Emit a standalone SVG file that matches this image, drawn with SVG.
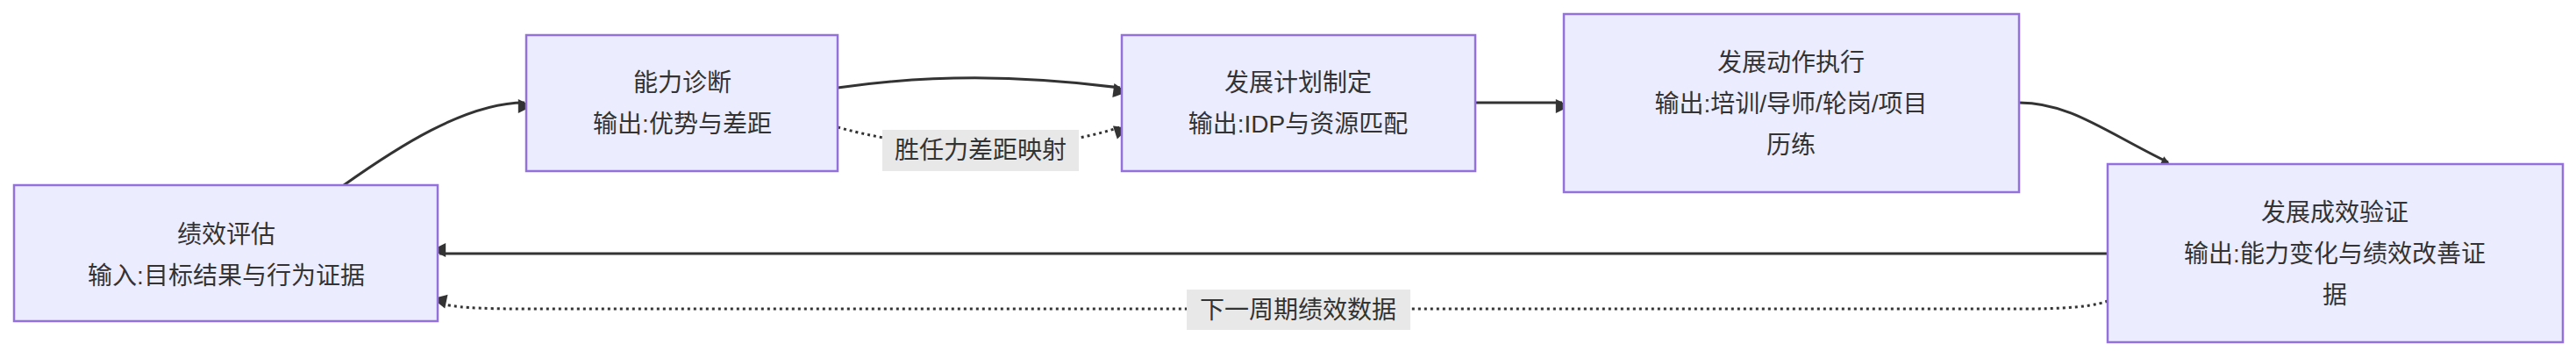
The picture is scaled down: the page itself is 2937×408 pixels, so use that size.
<svg xmlns="http://www.w3.org/2000/svg" width="2937" height="408" viewBox="0 0 2937 408">
<style>
.n{fill:#ECECFF;stroke:#9370DB;stroke-width:2.5}
.t{font-family:"Liberation Sans","Noto Sans CJK SC",sans-serif;font-size:28px;fill:#333;text-anchor:middle}
.e{fill:none;stroke:#333;stroke-width:3}
.d{fill:none;stroke:#333;stroke-width:3;stroke-dasharray:3 4}
.lb{fill:#e8e8e8}
</style>
<defs><marker id="a" viewBox="0 0 10 10" refX="9" refY="5" markerWidth="8" markerHeight="8" markerUnits="userSpaceOnUse" orient="auto" overflow="visible"><path d="M0,0L10,5L0,10z" fill="#333" transform="scale(2)"/></marker></defs>
<rect width="2937" height="408" fill="#fff"/>
<g id="connectors">
<path class="e" d="M392,211 C450,170 530,117 598,117" marker-end="url(#a)"/>
<path class="e" d="M955,100 C1060,85 1160,85 1277,100" marker-end="url(#a)"/>
<path class="d" d="M955,145 C1010,160 1050,165 1118,165 C1190,165 1230,160 1277,145" marker-end="url(#a)"/>
<path class="e" d="M1682,117 L1781,117" marker-end="url(#a)"/>
<path class="e" d="M2302,117 C2360,117 2400,150 2472,185" marker-end="url(#a)"/>
<path class="e" d="M2403,289 L501,289" marker-end="url(#a)"/>
<path class="d" d="M2403,343 C2380,352 2330,352 2300,352 L600,352 C540,352 520,350 501,346" marker-end="url(#a)"/>
<rect class="lb" x="1006" y="148" width="224" height="47"/>
<text class="t" x="1118" y="181">胜任力差距映射</text>
<rect class="lb" x="1353" y="330" width="255" height="46"/>
<text class="t" x="1480" y="363">下一周期绩效数据</text>
</g>
<g id="n1"><rect class="n" x="16" y="211" width="483" height="155"/><text class="t" x="258" y="277">绩效评估</text><text class="t" x="258" y="324">输入:目标结果与行为证据</text></g>
<g id="n2"><rect class="n" x="600" y="40" width="355" height="155"/><text class="t" x="778" y="104">能力诊断</text><text class="t" x="778" y="151">输出:优势与差距</text></g>
<g id="n3"><rect class="n" x="1279" y="40" width="403" height="155"/><text class="t" x="1480" y="104">发展计划制定</text><text class="t" x="1480" y="151">输出:IDP与资源匹配</text></g>
<g id="n4"><rect class="n" x="1783" y="16" width="519" height="203"/><text class="t" x="2042" y="81">发展动作执行</text><text class="t" x="2042" y="128">输出:培训/导师/轮岗/项目</text><text class="t" x="2042" y="175">历练</text></g>
<g id="n5"><rect class="n" x="2403" y="187" width="519" height="203"/><text class="t" x="2662" y="252">发展成效验证</text><text class="t" x="2662" y="299">输出:能力变化与绩效改善证</text><text class="t" x="2662" y="346">据</text></g>
</svg>
